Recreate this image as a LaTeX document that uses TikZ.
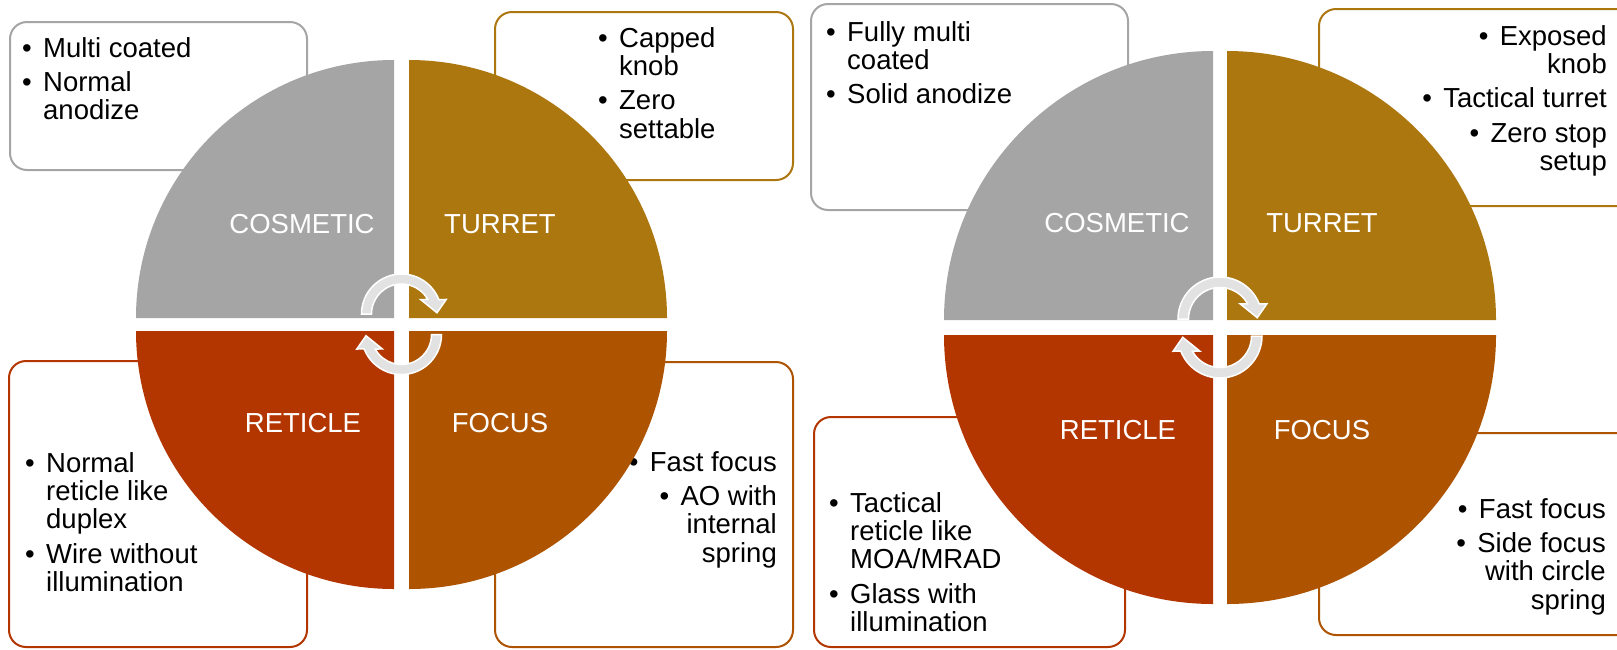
\documentclass[tikz,border=0pt]{standalone}
\usepackage{fontspec}
\setmainfont{Liberation Sans}
\definecolor{cgray}{HTML}{A5A5A5}
\definecolor{cgold}{HTML}{AD7710}
\definecolor{cred}{HTML}{B33500}
\definecolor{corange}{HTML}{AE5300}
\definecolor{arrowgray}{HTML}{E2E2E2}
\newcommand\myblt{\makebox[21pt][l]{\textbullet}}
\newcommand\myind{\hspace*{21pt}}
\newcommand\cycarrow[3]{%
  \begin{scope}[shift={(#1,#2)},#3]
    \filldraw[cyc] (180:40) arc[start angle=180,end angle=339,radius=40]
      -- (342:47) -- (358:35.5) -- (323:24) -- (331:30)
      arc[start angle=331,end angle=180,radius=30] -- cycle;
  \end{scope}}
\tikzset{
  infobox/.style={draw=#1, line width=2pt, rounded corners=17pt, fill=white},
  qlabel/.style={text=white, anchor=base, inner sep=0pt, font=\fontsize{27.5pt}{28.3pt}\selectfont},
  btext/.style={inner sep=0pt, font=\fontsize{27.5pt}{28.3pt}\selectfont},
  cyc/.style={fill=arrowgray, draw=white, line width=1.5pt},
}
\begin{document}
\begin{tikzpicture}[x=1pt,y=-1pt]
\useasboundingbox (0,0) rectangle (1617,649);
\clip (0,0) rectangle (1617,649);
% ---------- left diagram: boxes
\draw[infobox=cgray] (10,22) rectangle (307,170);
\draw[infobox=cgold] (495,12) rectangle (793,180);
\draw[infobox=cred] (9,361) rectangle (307,647);
\draw[infobox=corange] (495,362) rectangle (793,647);
\node[btext, anchor=base west] (lcosT) at (22,57) {\begin{tabular}[t]{@{}l@{}}\myblt Multi coated\\[6pt]\myblt Normal\\\myind anodize\end{tabular}};
\node[btext, anchor=base west] (lturT) at (598,47) {\begin{tabular}[t]{@{}l@{}}\myblt Capped\\\myind knob\\[6pt]\myblt Zero\\\myind settable\end{tabular}};
\node[btext, anchor=base west] (lretT) at (25,472) {\begin{tabular}[t]{@{}l@{}}\myblt Normal\\\myind reticle like\\\myind duplex\\[6pt]\myblt Wire without\\\myind illumination\end{tabular}};
\node[btext, anchor=base east] (lfocT) at (777,471) {\begin{tabular}[t]{@{}r@{}}\myblt Fast focus\\[6pt]\myblt AO with\\internal\\spring\end{tabular}};
% ---------- right diagram: boxes
\draw[infobox=cgray] (811,4) rectangle (1128,210);
\draw[infobox=cgold] (1319,9) rectangle (1640,206);
\draw[infobox=cred] (814,417) rectangle (1125,647);
\draw[infobox=corange] (1319,433) rectangle (1640,635);
\node[btext, anchor=base west] (rcosT) at (826,41) {\begin{tabular}[t]{@{}l@{}}\myblt Fully multi\\\myind coated\\[6pt]\myblt Solid anodize\end{tabular}};
\node[btext, anchor=base east] (rturT) at (1607,45) {\begin{tabular}[t]{@{}r@{}}\myblt Exposed\\knob\\[6pt]\myblt Tactical turret\\[6pt]\myblt Zero stop\\setup\end{tabular}};
\node[btext, anchor=base west] (rretT) at (829,512) {\begin{tabular}[t]{@{}l@{}}\myblt Tactical\\\myind reticle like\\\myind MOA/MRAD\\[6pt]\myblt Glass with\\\myind illumination\end{tabular}};
\node[btext, anchor=base east] (rfocT) at (1606,518) {\begin{tabular}[t]{@{}r@{}}\myblt Fast focus\\[6pt]\myblt Side focus\\with circle\\spring\end{tabular}};
% ---------- left diagram: quadrants
\fill[cgray] (394,318) -- ++(-258,0) arc[start angle=180,end angle=270,radius=258] -- cycle;
\fill[cgold] (409,318) -- ++(0,-258) arc[start angle=270,end angle=360,radius=258] -- cycle;
\fill[cred] (394,331) -- ++(-258,0) arc[start angle=180,end angle=90,radius=258] -- cycle;
\fill[corange] (409,331) -- ++(258,0) arc[start angle=0,end angle=90,radius=258] -- cycle;
\node[qlabel] (lcos) at (302,233) {COSMETIC};
\node[qlabel] (ltur) at (500,233) {TURRET};
\node[qlabel] (lret) at (303,432) {RETICLE};
\node[qlabel] (lfoc) at (500,432) {FOCUS};
\cycarrow{401.5}{314}{}
\cycarrow{401.5}{334.5}{rotate=180}
% ---------- right diagram: quadrants
\fill[cgray] (1213,320) -- ++(-269,0) arc[start angle=180,end angle=270,radius=269] -- cycle;
\fill[cgold] (1227,320) -- ++(0,-269) arc[start angle=270,end angle=360,radius=269] -- cycle;
\fill[cred] (1213,335) -- ++(-269,0) arc[start angle=180,end angle=90,radius=269] -- cycle;
\fill[corange] (1227,335) -- ++(269,0) arc[start angle=0,end angle=90,radius=269] -- cycle;
\node[qlabel] (rcos) at (1117,232) {COSMETIC};
\node[qlabel] (rtur) at (1322,232) {TURRET};
\node[qlabel] (rret) at (1118,439) {RETICLE};
\node[qlabel] (rfoc) at (1322,439) {FOCUS};
\cycarrow{1220}{319}{scale=1.05}
\cycarrow{1220}{336}{rotate=180,scale=1.05}
\end{tikzpicture}
\end{document}
